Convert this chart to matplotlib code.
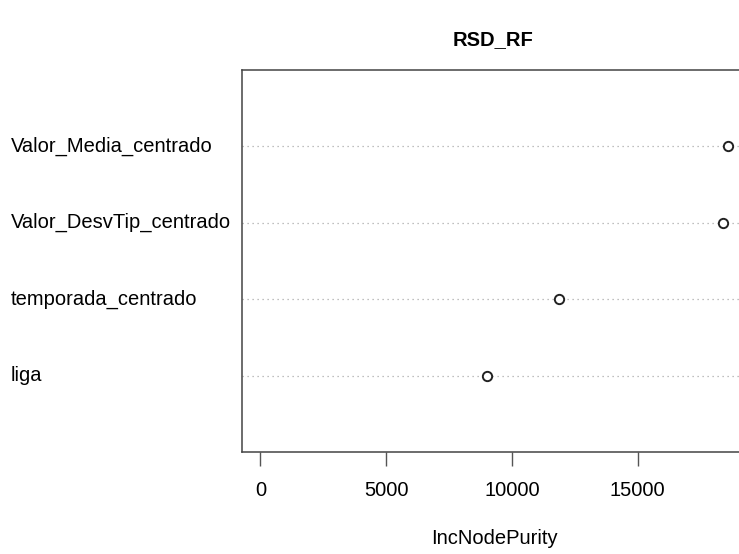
import matplotlib
matplotlib.use("Agg")
import matplotlib.pyplot as plt
import matplotlib.transforms as mtransforms

# variable importance (IncNodePurity), bottom to top
variables = ["liga", "temporada_centrado", "Valor_DesvTip_centrado", "Valor_Media_centrado"]
purity = [9000, 11870, 18400, 18600]
xticks = [0, 5000, 10000, 15000]

plt.rcParams['font.family'] = ['Liberation Sans', 'DejaVu Sans']

W, H = 739, 554
fig = plt.figure(figsize=(W / 100, H / 100), dpi=100)
# the plot box runs past the right edge of the picture
left, right, top, bottom = 241.7, 747, 70, 452
ax = fig.add_axes([left / W, (H - bottom) / H, (right - left) / W, (bottom - top) / H])

ypos = list(range(1, len(variables) + 1))
for y in ypos:
    ax.axhline(y, color='#aaaaaa', lw=0.9, ls=(0, (1, 3)), zorder=1)
ax.scatter(purity, ypos, s=45, facecolor='white', edgecolor='#222222', linewidths=1.4, zorder=3)

xmax = max(purity)
ax.set_xlim(-0.04 * xmax, 1.04 * xmax)
ax.set_ylim(0, len(variables) + 1)
ax.set_yticks([])
ax.set_xticks(xticks)
ax.set_xticklabels([str(t) for t in xticks])
ax.tick_params(axis='x', length=10, width=1, color='#555555', pad=11, labelsize=14.5)
for s in ax.spines.values():
    s.set_color('#444444')
    s.set_linewidth(1.1)

trans = mtransforms.blended_transform_factory(fig.transFigure, ax.transData)
for y, name in zip(ypos, variables):
    fig.text(11 / W, y, name, transform=trans, ha='left', va='center', fontsize=14.5)

ax.set_xlabel('IncNodePurity', fontsize=14.5, labelpad=21)
fig.text(493 / W, 1 - 40 / H, 'RSD_RF', ha='center', va='center', fontsize=14.5, fontweight='bold')

fig.savefig('out.png', dpi=100)
